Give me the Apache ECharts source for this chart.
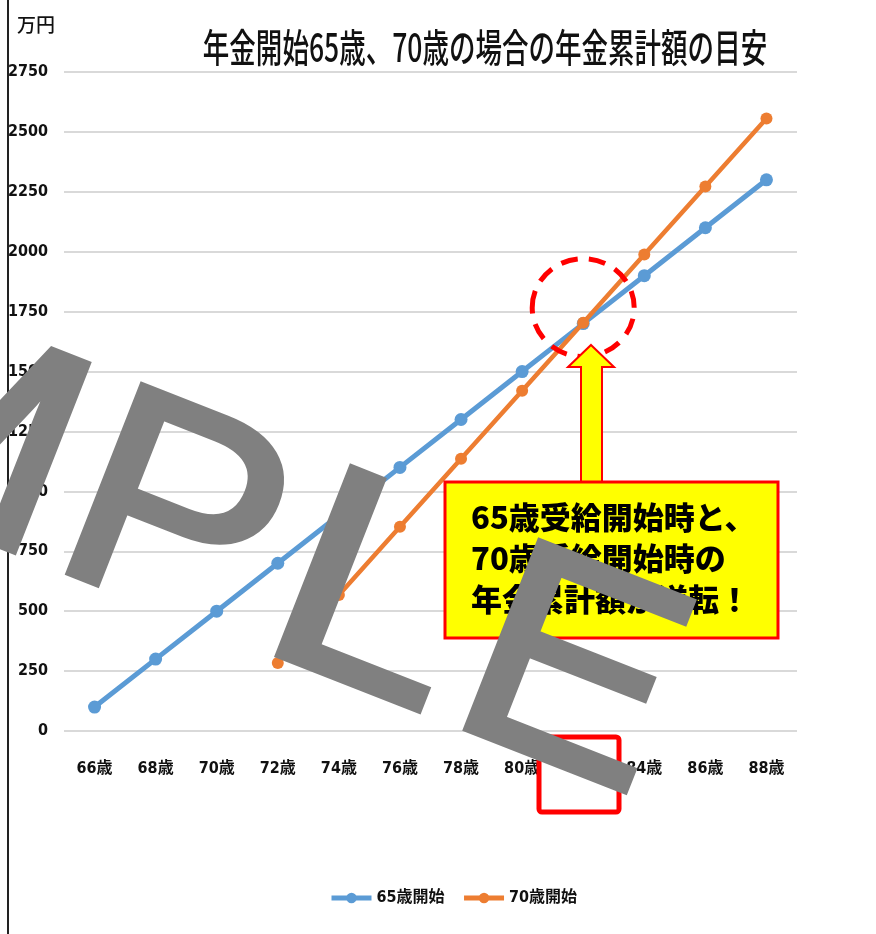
<!DOCTYPE html>
<html lang="ja">
<head>
    <meta charset="UTF-8">
    <title>年金累計額の目安</title>
    <script src="https://cdn.jsdelivr.net/npm/echarts@6/dist/echarts.min.js"></script>
    <style>
        body { margin: 0; padding: 0; background: #fff; }
        #chart { width: 876px; height: 934px; }
    </style>
</head>
<body>
<div id="chart"></div>
<script>
    // categories and values
    const ages = ['66歳', '68歳', '70歳', '72歳', '74歳', '76歳', '78歳', '80歳', '82歳', '84歳', '86歳', '88歳'];
    const start65 = [100, 300, 500, 700, 900, 1100, 1300, 1500, 1700, 1900, 2100, 2300];
    const start70 = ['-', '-', '-', 284, 568, 852, 1136, 1420, 1704, 1988, 2272, 2556];
    const calloutLines = ['65歳受給開始時と、', '70歳受給開始時の', '年金累計額が逆転！'];
    const titleText = '年金開始65歳、70歳の場合の年金累計額の目安';

    const jp = '"Noto Sans CJK JP", sans-serif';
    const cond = '"DejaVu Sans Condensed", "Noto Sans CJK JP", sans-serif';

    const chart = echarts.init(document.getElementById('chart'));

    chart.setOption({
        backgroundColor: '#fff',
        animation: false,
        legend: {
            bottom: 23,
            left: 324,
            itemWidth: 40,
            itemHeight: 13,
            itemGap: 17,
            lineStyle: { width: 5 },
            textStyle: { fontFamily: cond, fontSize: 16, fontWeight: 'bold', color: '#111' },
            data: ['65歳開始', '70歳開始']
        },
        grid: { left: 64, right: 79, top: 72, bottom: 203 },
        xAxis: {
            type: 'category',
            data: ages,
            boundaryGap: true,
            axisLine: { show: false },
            axisTick: { show: false },
            axisLabel: { margin: 30, fontFamily: cond, fontSize: 16, fontWeight: 'bold', color: '#111' }
        },
        yAxis: {
            type: 'value',
            min: 0,
            max: 2750,
            interval: 250,
            name: '万円',
            nameLocation: 'end',
            nameGap: 36,
            nameTextStyle: { fontFamily: jp, fontSize: 19, fontWeight: 500, color: '#111', align: 'right', padding: [0, 9, 2, 0] },
            axisLine: { show: false },
            axisTick: { show: false },
            axisLabel: {
                margin: 16,
                fontFamily: cond,
                fontSize: 16,
                fontWeight: 'bold',
                color: '#111',
                formatter: v => String(v)
            },
            splitLine: { lineStyle: { color: '#d9d9d9', width: 2 } }
        },
        series: [
            {
                name: '65歳開始',
                type: 'line',
                data: start65,
                symbol: 'circle',
                symbolSize: 13,
                color: '#5b9bd5',
                lineStyle: { width: 5, color: '#5b9bd5' },
                z: 3
            },
            {
                name: '70歳開始',
                type: 'line',
                data: start70,
                symbol: 'circle',
                symbolSize: 12,
                color: '#ed7d31',
                lineStyle: { width: 4.5, color: '#ed7d31' },
                z: 4
            }
        ]
    });

    // annotations: title, circle around crossing, arrow, callout box, red box, watermark
    const cross = chart.convertToPixel({ seriesIndex: 1 }, [8, start70[8]]);

    // watermark letters (spaced a bit wider than the font does)
    const wmLetters = ['S', 'A', 'M', 'P', 'L', 'E'];
    const wmX = [-775, -525, -292, -23, 200, 404];
    const wmScale = [1.07, 1.07, 1.07, 1.07, 1.16, 1.07];

    chart.setOption({
        graphic: [
            {
                type: 'text',
                x: 485,
                y: 47,
                scaleX: 0.68,
                style: {
                    text: titleText,
                    fontFamily: jp,
                    fontSize: 39,
                    fontWeight: 500,
                    fill: '#111',
                    align: 'center',
                    verticalAlign: 'middle'
                },
                z: 50
            },
            {
                type: 'line',
                shape: { x1: 8, y1: 0, x2: 8, y2: 934 },
                style: { stroke: '#222', lineWidth: 2 },
                z: 100
            },
            {
                type: 'ellipse',
                shape: { cx: cross[0], cy: cross[1] - 15, rx: 51, ry: 49 },
                style: { fill: null, stroke: '#ff0000', lineWidth: 5, lineDash: [17, 11] },
                z: 100
            },
            {
                type: 'polygon',
                shape: { points: [[591, 345], [614, 367], [602, 367], [602, 483], [581, 483], [581, 367], [568, 367]] },
                style: { fill: '#ffff00', stroke: '#ff0000', lineWidth: 2 },
                z: 100
            },
            {
                type: 'rect',
                shape: { x: 445, y: 482, width: 333, height: 156 },
                style: { fill: '#ffff00', stroke: '#ff0000', lineWidth: 3 },
                z: 101
            },
            {
                type: 'text',
                x: 471,
                y: 497,
                style: {
                    text: calloutLines.join('\n'),
                    fontFamily: jp,
                    fontSize: 31,
                    fontWeight: 900,
                    lineHeight: 41,
                    fill: '#000'
                },
                z: 102
            },
            {
                type: 'rect',
                shape: { x: 539, y: 737, width: 80, height: 75, r: 3 },
                style: { fill: '#fff', stroke: '#ff0000', lineWidth: 5 },
                z: 100
            },
            {
                type: 'group',
                x: 65,
                y: 577,
                rotation: -0.374,
                z: 200,
                children: wmLetters.map((ch, i) => ({
                    type: 'text',
                    x: wmX[i],
                    y: 60,
                    scaleX: wmScale[i],
                    z: 200,
                    style: {
                        text: ch,
                        fontFamily: '"Liberation Sans", Arial, sans-serif',
                        fontSize: 292,
                        fill: '#808080',
                        stroke: '#808080',
                        lineWidth: 7,
                        align: 'left',
                        verticalAlign: 'bottom'
                    }
                }))
            }
        ]
    });
</script>
</body>
</html>
